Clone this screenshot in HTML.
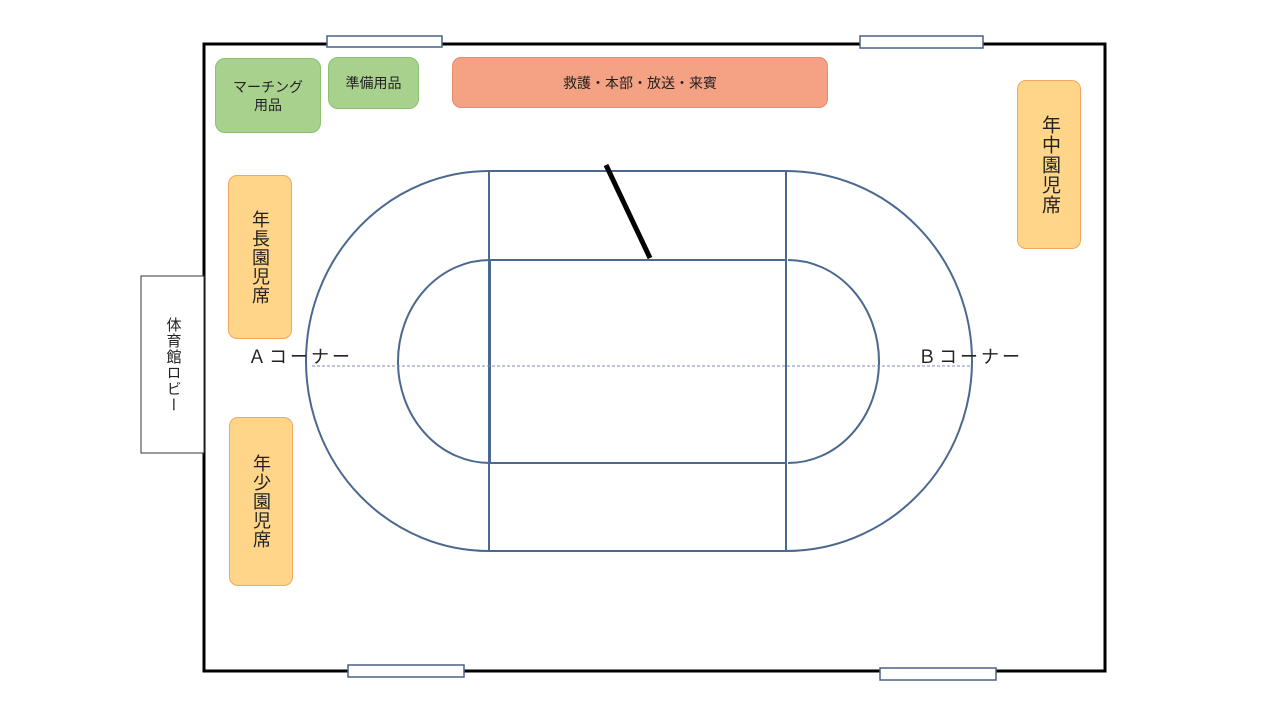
<!DOCTYPE html>
<html><head><meta charset="utf-8"><style>
body{margin:0;width:1280px;height:720px;background:#fff;overflow:hidden;position:relative;font-family:"Liberation Sans","Noto Sans CJK JP",sans-serif;}
.b{position:absolute;box-sizing:border-box;display:flex;align-items:center;justify-content:center;text-align:center;color:#222;}
.g{background:#a9d18e;border:1px solid #8cbf6e;border-radius:10px;font-size:14px;line-height:18px;}
.o{background:#ffd58a;border:1px solid #f0a860;border-radius:9px;font-size:18px;line-height:22px;writing-mode:vertical-rl;letter-spacing:1px;}
</style></head><body>
<svg width="1280" height="720" style="position:absolute;left:0;top:0">
<rect x="204" y="44" width="901" height="627" fill="none" stroke="#000" stroke-width="3"/>
<g fill="#fff" stroke="#4a6284" stroke-width="1.5">
<rect x="327" y="36" width="115" height="11"/>
<rect x="860" y="36" width="123" height="12"/>
<rect x="348" y="665" width="116" height="12"/>
<rect x="880" y="668" width="116" height="12"/>
</g>
<rect x="141" y="276" width="63" height="177" fill="#fff" stroke="#333" stroke-width="1"/>
<g fill="none" stroke="#4a6890" stroke-width="2">
<path d="M489 171 L786 171 A186 190 0 0 1 786 551 L489 551 A183 190 0 0 1 489 171 Z"/>
<path d="M490 260 C540 260 398 260 398 361 C398 463 490 463 490 463" stroke="none"/>
<path d="M490 260 A92 101.5 0 0 0 490 463"/>
<path d="M788 260 A91 101.5 0 0 1 788 463"/>
<line x1="489" y1="171" x2="489" y2="551"/>
<line x1="786" y1="171" x2="786" y2="551"/>
<rect x="490" y="260" width="296" height="203"/>
</g>
<line x1="312" y1="366" x2="972" y2="366" stroke="#7090b8" stroke-width="1" stroke-dasharray="3,2"/>
<line x1="606" y1="165" x2="650" y2="258" stroke="#000" stroke-width="5"/>
<text x="248" y="363" font-size="18" letter-spacing="3" fill="#222" font-family="Liberation Sans,Noto Sans CJK JP,sans-serif">Ａコーナー</text>
<text x="918" y="363" font-size="18" letter-spacing="3" fill="#222" font-family="Liberation Sans,Noto Sans CJK JP,sans-serif">Ｂコーナー</text>
</svg>
<div class="b" style="left:141px;top:276px;width:63px;height:177px;writing-mode:vertical-rl;font-size:15px;line-height:20px;letter-spacing:1px">体育館ロビー</div>
<div class="b g" style="left:215px;top:58px;width:106px;height:75px">マーチング<br>用品</div>
<div class="b g" style="left:328px;top:57px;width:91px;height:52px">準備用品</div>
<div class="b" style="left:452px;top:57px;width:376px;height:51px;background:#f4a184;border:1px solid #e88a6a;border-radius:9px;font-size:14px">救護・本部・放送・来賓</div>
<div class="b o" style="left:228px;top:175px;width:64px;height:164px">年長園児席</div>
<div class="b o" style="left:229px;top:417px;width:64px;height:169px">年少園児席</div>
<div class="b o" style="left:1017px;top:80px;width:64px;height:169px;font-size:19px">年中園児席</div>
</body></html>
